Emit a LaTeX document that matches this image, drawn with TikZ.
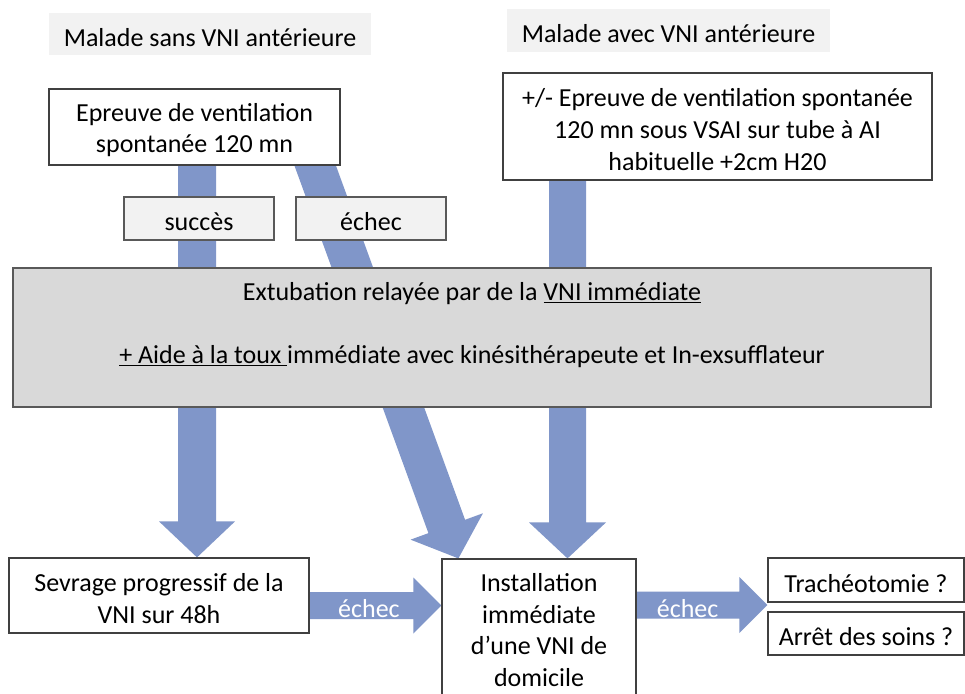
\documentclass[tikz,border=0pt]{standalone}
\usepackage{fontspec}
\setmainfont{Carlito}
\usetikzlibrary{calc}
\definecolor{arrowblue}{RGB}{128,150,201}
\definecolor{biggray}{RGB}{217,217,217}
\definecolor{lightgraytwo}{RGB}{242,242,242}
\definecolor{edgedark}{RGB}{64,64,64}
\definecolor{edgemid}{RGB}{89,89,89}
\pgfdeclarelayer{bg}
\pgfsetlayers{bg,main}
\newcommand{\topstrut}{\rule{0pt}{24pt}}
% #1 from, #2 to, #3 half shaft width, #4 half head width, #5 head length
\newcommand{\blockarrow}[5]{%
  \path ($(#2)!#5!(#1)$) coordinate (hb);
  \fill[arrowblue] ($(#1)!#3!90:(#2)$) -- ($(hb)!#3!90:(#2)$) -- ($(hb)!#4!90:(#2)$) -- (#2)
    -- ($(hb)!#4!-90:(#2)$) -- ($(hb)!#3!-90:(#2)$) -- ($(#1)!#3!-90:(#2)$) -- cycle;}
\begin{document}
\begin{tikzpicture}[x=1pt,y=-1pt,
  every node/.style={font=\fontsize{26}{31.7}\selectfont, inner sep=0pt, align=center, text=black,
    execute at begin node={\rule{0pt}{25pt}}},
  plainbox/.style={draw=edgedark, line width=1.2pt, fill=white},
  toplbl/.style={fill=lightgraytwo},
  tagbox/.style={draw=edgemid, line width=1.2pt, fill=lightgraytwo},
  bigbox/.style={draw=edgemid, line width=1.2pt, fill=biggray},
  arrowlbl/.style={text=white}]
\useasboundingbox (0,0) rectangle (965,693);
\begin{pgfonlayer}{bg}
  \fill[white] (0,0) rectangle (965,693);
\end{pgfonlayer}

\node[toplbl, minimum width=322pt, minimum height=42pt] (lsans) at (210,34) {Malade sans VNI antérieure};
\node[toplbl, minimum width=323pt, minimum height=43pt] (lavec) at (668.5,30.5) {Malade avec VNI antérieure};

\node[plainbox, minimum width=291pt, minimum height=76pt] (ep) at (194.5,127) {\topstrut Epreuve de ventilation\\spontanée 120 mn};
\node[plainbox, minimum width=429pt, minimum height=107pt] (ep2) at (717.5,126.5) {\topstrut +/- Epreuve de ventilation spontanée\\120 mn sous VSAI sur tube à AI\\habituelle +2cm H20};

\node[tagbox, minimum width=150pt, minimum height=43pt] (suc) at (199,218.5) {succès};
\node[tagbox, minimum width=150pt, minimum height=43pt] (ech) at (371,218.5) {échec};

\node[bigbox, minimum width=918pt, minimum height=139pt] (ext) at (472,337.5) {};
\node[font=\fontsize{26}{63}\selectfont] (extt) at (472,325) {Extubation relayée par de la \underline{VNI immédiate}\\\underline{+ Aide à la toux\ }immédiate avec kinésithérapeute et In-exsufflateur};

\node[plainbox, minimum width=300pt, minimum height=75pt] (sev) at (159,595.5) {\topstrut Sevrage progressif de la\\VNI sur 48h};
\node[plainbox, minimum width=194pt, minimum height=142pt] (inst) at (539,630) {Installation\\immédiate\\d’une VNI de\\domicile};
\node[plainbox, minimum width=196pt, minimum height=44pt] (tr) at (866,580) {Trachéotomie ?};
\node[plainbox, minimum width=196pt, minimum height=43pt] (ar) at (866,633.5) {Arrêt des soins ?};

\begin{pgfonlayer}{bg}
  \coordinate (a1s) at (197,150);
  \coordinate (a1e) at (a1s |- sev.north);
  \blockarrow{a1s}{a1e}{19pt}{38pt}{36pt}
  \coordinate (a2s) at (309.5,150);
  \coordinate (a2e) at ([xshift=17pt]inst.north west);
  \blockarrow{a2s}{a2e}{19.5pt}{38.5pt}{34pt}
  \coordinate (a3s) at (567.5,170);
  \coordinate (a3e) at (a3s |- inst.north);
  \blockarrow{a3s}{a3e}{18.5pt}{38.5pt}{36pt}
  \coordinate (a4s) at ([yshift=-10pt]sev.east);
  \coordinate (a4e) at (a4s -| inst.west);
  \blockarrow{a4s}{a4e}{13.5pt}{28pt}{28pt}
  \coordinate (a5s) at ([yshift=25pt]inst.east);
  \coordinate (a5e) at (a5s -| tr.west);
  \blockarrow{a5s}{a5e}{13.5pt}{28pt}{28pt}
\end{pgfonlayer}

\node[arrowlbl] (l4) at ($(a4s)!0.45!(a4e)$) {échec};
\node[arrowlbl] (l5) at ($(a5s)!0.39!(a5e)$) {échec};
\end{tikzpicture}
\end{document}
